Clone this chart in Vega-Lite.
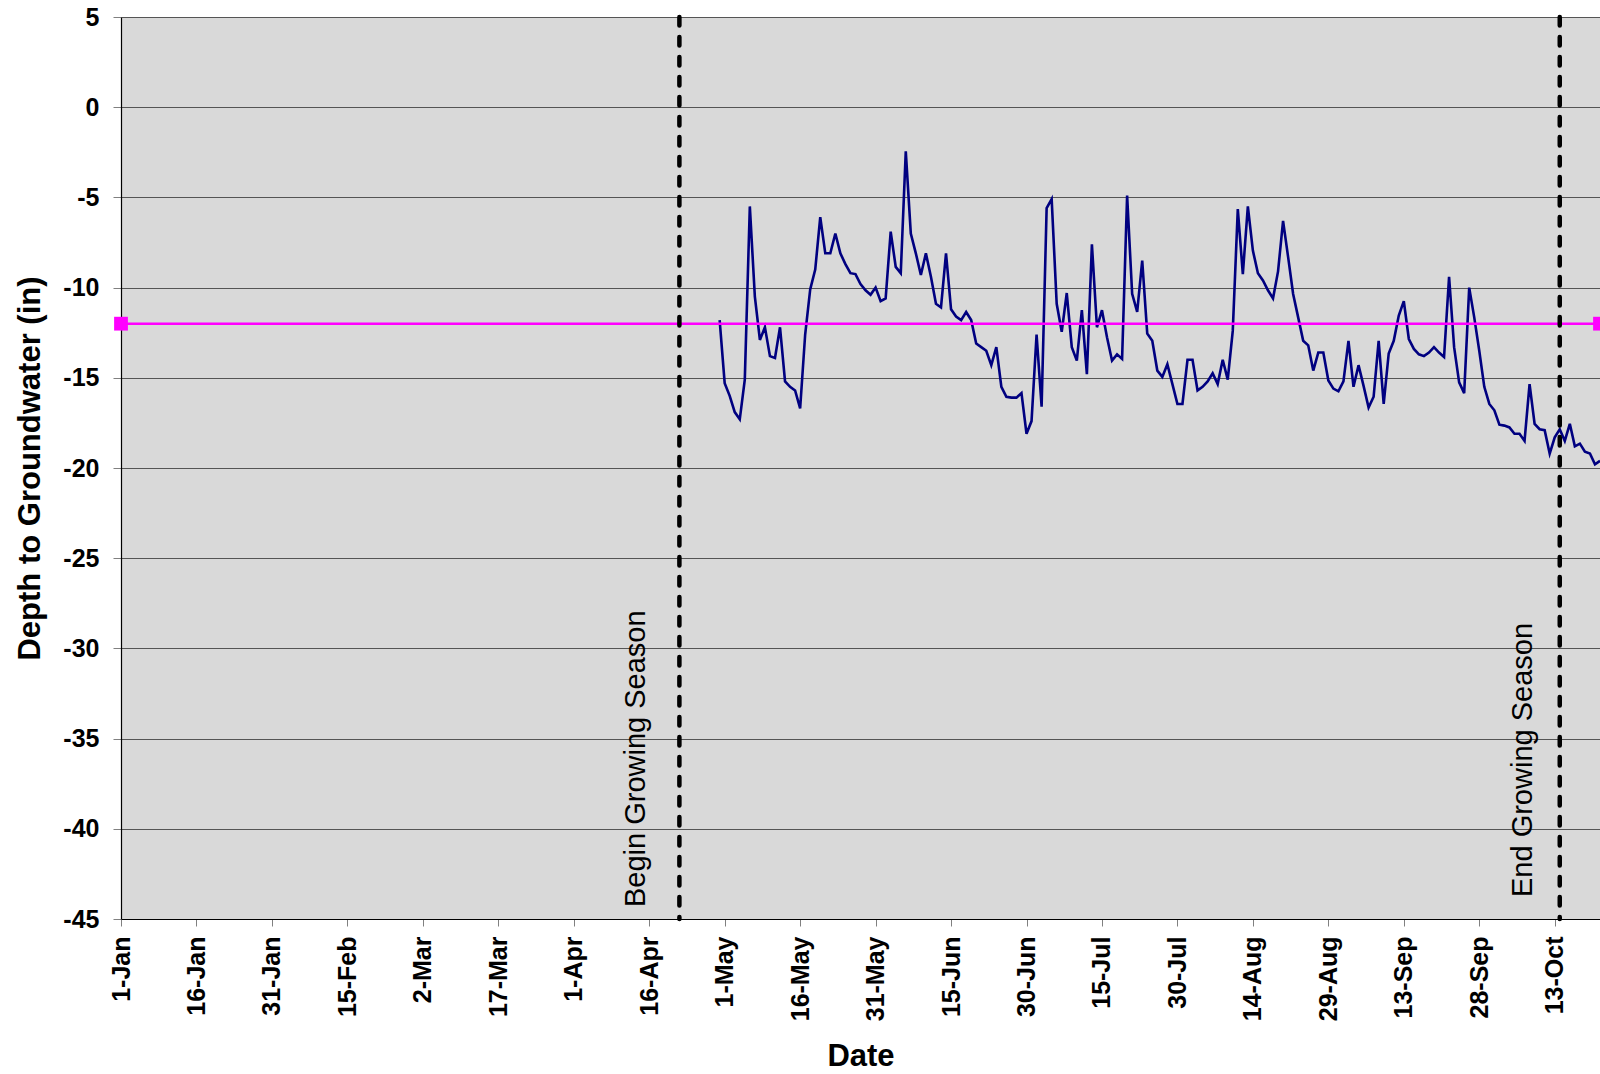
{
  "$schema": "https://vega.github.io/schema/vega-lite/v6.json",
  "width": 1479,
  "height": 902,
  "autosize": {"type": "none"},
  "padding": {"left": 121, "top": 17, "right": 0, "bottom": 155},
  "background": "white",
  "config": {
    "view": {"fill": "#d9d9d9", "stroke": null},
    "font": "Liberation Sans"
  },
  "datasets": {
    "gw": [
      {"date": "2009-04-30", "depth": -11.8},
      {"date": "2009-05-01", "depth": -15.3},
      {"date": "2009-05-02", "depth": -16.0},
      {"date": "2009-05-03", "depth": -16.9},
      {"date": "2009-05-04", "depth": -17.3},
      {"date": "2009-05-05", "depth": -15.1},
      {"date": "2009-05-06", "depth": -5.5},
      {"date": "2009-05-07", "depth": -10.5},
      {"date": "2009-05-08", "depth": -12.9},
      {"date": "2009-05-09", "depth": -12.2},
      {"date": "2009-05-10", "depth": -13.8},
      {"date": "2009-05-11", "depth": -13.9},
      {"date": "2009-05-12", "depth": -12.2},
      {"date": "2009-05-13", "depth": -15.2},
      {"date": "2009-05-14", "depth": -15.5},
      {"date": "2009-05-15", "depth": -15.7},
      {"date": "2009-05-16", "depth": -16.7},
      {"date": "2009-05-17", "depth": -12.6},
      {"date": "2009-05-18", "depth": -10.1},
      {"date": "2009-05-19", "depth": -9.0},
      {"date": "2009-05-20", "depth": -6.1},
      {"date": "2009-05-21", "depth": -8.1},
      {"date": "2009-05-22", "depth": -8.1},
      {"date": "2009-05-23", "depth": -7.0},
      {"date": "2009-05-24", "depth": -8.1},
      {"date": "2009-05-25", "depth": -8.7},
      {"date": "2009-05-26", "depth": -9.2},
      {"date": "2009-05-27", "depth": -9.25},
      {"date": "2009-05-28", "depth": -9.8},
      {"date": "2009-05-29", "depth": -10.15},
      {"date": "2009-05-30", "depth": -10.4},
      {"date": "2009-05-31", "depth": -10.0},
      {"date": "2009-06-01", "depth": -10.75},
      {"date": "2009-06-02", "depth": -10.6},
      {"date": "2009-06-03", "depth": -6.9},
      {"date": "2009-06-04", "depth": -8.85},
      {"date": "2009-06-05", "depth": -9.2},
      {"date": "2009-06-06", "depth": -2.45},
      {"date": "2009-06-07", "depth": -7.0},
      {"date": "2009-06-08", "depth": -8.1},
      {"date": "2009-06-09", "depth": -9.3},
      {"date": "2009-06-10", "depth": -8.1},
      {"date": "2009-06-11", "depth": -9.4},
      {"date": "2009-06-12", "depth": -10.9},
      {"date": "2009-06-13", "depth": -11.1},
      {"date": "2009-06-14", "depth": -8.1},
      {"date": "2009-06-15", "depth": -11.2},
      {"date": "2009-06-16", "depth": -11.6},
      {"date": "2009-06-17", "depth": -11.8},
      {"date": "2009-06-18", "depth": -11.35},
      {"date": "2009-06-19", "depth": -11.8},
      {"date": "2009-06-20", "depth": -13.1},
      {"date": "2009-06-21", "depth": -13.3},
      {"date": "2009-06-22", "depth": -13.5},
      {"date": "2009-06-23", "depth": -14.3},
      {"date": "2009-06-24", "depth": -13.3},
      {"date": "2009-06-25", "depth": -15.5},
      {"date": "2009-06-26", "depth": -16.05},
      {"date": "2009-06-27", "depth": -16.1},
      {"date": "2009-06-28", "depth": -16.1},
      {"date": "2009-06-29", "depth": -15.85},
      {"date": "2009-06-30", "depth": -18.1},
      {"date": "2009-07-01", "depth": -17.4},
      {"date": "2009-07-02", "depth": -12.6},
      {"date": "2009-07-03", "depth": -16.6},
      {"date": "2009-07-04", "depth": -5.6},
      {"date": "2009-07-05", "depth": -5.1},
      {"date": "2009-07-06", "depth": -10.9},
      {"date": "2009-07-07", "depth": -12.45},
      {"date": "2009-07-08", "depth": -10.3},
      {"date": "2009-07-09", "depth": -13.3},
      {"date": "2009-07-10", "depth": -14.05},
      {"date": "2009-07-11", "depth": -11.25},
      {"date": "2009-07-12", "depth": -14.8},
      {"date": "2009-07-13", "depth": -7.6},
      {"date": "2009-07-14", "depth": -12.2},
      {"date": "2009-07-15", "depth": -11.25},
      {"date": "2009-07-16", "depth": -12.75},
      {"date": "2009-07-17", "depth": -14.05},
      {"date": "2009-07-18", "depth": -13.7},
      {"date": "2009-07-19", "depth": -13.95},
      {"date": "2009-07-20", "depth": -4.9},
      {"date": "2009-07-21", "depth": -10.35},
      {"date": "2009-07-22", "depth": -11.35},
      {"date": "2009-07-23", "depth": -8.5},
      {"date": "2009-07-24", "depth": -12.55},
      {"date": "2009-07-25", "depth": -12.95},
      {"date": "2009-07-26", "depth": -14.6},
      {"date": "2009-07-27", "depth": -14.95},
      {"date": "2009-07-28", "depth": -14.25},
      {"date": "2009-07-29", "depth": -15.35},
      {"date": "2009-07-30", "depth": -16.45},
      {"date": "2009-07-31", "depth": -16.45},
      {"date": "2009-08-01", "depth": -14.0},
      {"date": "2009-08-02", "depth": -14.0},
      {"date": "2009-08-03", "depth": -15.7},
      {"date": "2009-08-04", "depth": -15.5},
      {"date": "2009-08-05", "depth": -15.2},
      {"date": "2009-08-06", "depth": -14.75},
      {"date": "2009-08-07", "depth": -15.35},
      {"date": "2009-08-08", "depth": -14.0},
      {"date": "2009-08-09", "depth": -15.1},
      {"date": "2009-08-10", "depth": -12.4},
      {"date": "2009-08-11", "depth": -5.65},
      {"date": "2009-08-12", "depth": -9.25},
      {"date": "2009-08-13", "depth": -5.5},
      {"date": "2009-08-14", "depth": -7.95},
      {"date": "2009-08-15", "depth": -9.2},
      {"date": "2009-08-16", "depth": -9.6},
      {"date": "2009-08-17", "depth": -10.15},
      {"date": "2009-08-18", "depth": -10.6},
      {"date": "2009-08-19", "depth": -9.1},
      {"date": "2009-08-20", "depth": -6.3},
      {"date": "2009-08-21", "depth": -8.3},
      {"date": "2009-08-22", "depth": -10.35},
      {"date": "2009-08-23", "depth": -11.65},
      {"date": "2009-08-24", "depth": -12.95},
      {"date": "2009-08-25", "depth": -13.2},
      {"date": "2009-08-26", "depth": -14.6},
      {"date": "2009-08-27", "depth": -13.6},
      {"date": "2009-08-28", "depth": -13.6},
      {"date": "2009-08-29", "depth": -15.15},
      {"date": "2009-08-30", "depth": -15.6},
      {"date": "2009-08-31", "depth": -15.75},
      {"date": "2009-09-01", "depth": -15.2},
      {"date": "2009-09-02", "depth": -12.95},
      {"date": "2009-09-03", "depth": -15.5},
      {"date": "2009-09-04", "depth": -14.3},
      {"date": "2009-09-05", "depth": -15.45},
      {"date": "2009-09-06", "depth": -16.65},
      {"date": "2009-09-07", "depth": -16.05},
      {"date": "2009-09-08", "depth": -12.95},
      {"date": "2009-09-09", "depth": -16.45},
      {"date": "2009-09-10", "depth": -13.65},
      {"date": "2009-09-11", "depth": -12.95},
      {"date": "2009-09-12", "depth": -11.55},
      {"date": "2009-09-13", "depth": -10.75},
      {"date": "2009-09-14", "depth": -12.85},
      {"date": "2009-09-15", "depth": -13.4},
      {"date": "2009-09-16", "depth": -13.7},
      {"date": "2009-09-17", "depth": -13.8},
      {"date": "2009-09-18", "depth": -13.6},
      {"date": "2009-09-19", "depth": -13.3},
      {"date": "2009-09-20", "depth": -13.6},
      {"date": "2009-09-21", "depth": -13.85},
      {"date": "2009-09-22", "depth": -9.4},
      {"date": "2009-09-23", "depth": -13.3},
      {"date": "2009-09-24", "depth": -15.25},
      {"date": "2009-09-25", "depth": -15.85},
      {"date": "2009-09-26", "depth": -10.0},
      {"date": "2009-09-27", "depth": -11.65},
      {"date": "2009-09-28", "depth": -13.5},
      {"date": "2009-09-29", "depth": -15.5},
      {"date": "2009-09-30", "depth": -16.45},
      {"date": "2009-10-01", "depth": -16.8},
      {"date": "2009-10-02", "depth": -17.6},
      {"date": "2009-10-03", "depth": -17.65},
      {"date": "2009-10-04", "depth": -17.75},
      {"date": "2009-10-05", "depth": -18.1},
      {"date": "2009-10-06", "depth": -18.1},
      {"date": "2009-10-07", "depth": -18.5},
      {"date": "2009-10-08", "depth": -15.35},
      {"date": "2009-10-09", "depth": -17.55},
      {"date": "2009-10-10", "depth": -17.85},
      {"date": "2009-10-11", "depth": -17.9},
      {"date": "2009-10-12", "depth": -19.2},
      {"date": "2009-10-13", "depth": -18.3},
      {"date": "2009-10-14", "depth": -17.85},
      {"date": "2009-10-15", "depth": -18.5},
      {"date": "2009-10-16", "depth": -17.55},
      {"date": "2009-10-17", "depth": -18.8},
      {"date": "2009-10-18", "depth": -18.65},
      {"date": "2009-10-19", "depth": -19.1},
      {"date": "2009-10-20", "depth": -19.2},
      {"date": "2009-10-21", "depth": -19.8},
      {"date": "2009-10-22", "depth": -19.6}
    ],
    "threshold": [
      {"date": "2009-01-01", "depth": -12},
      {"date": "2009-10-22", "depth": -12}
    ],
    "season": [
      {"date": "2009-04-22", "label": "Begin Growing Season"},
      {"date": "2009-10-14", "label": "End Growing Season"}
    ],
    "seasonBegin": [
      {"date": "2009-04-22", "label": "Begin Growing Season", "depth": -45}
    ],
    "seasonEnd": [
      {"date": "2009-10-14", "label": "End Growing Season", "depth": -45}
    ]
  },
  "encoding": {
    "x": {
      "field": "date",
      "type": "temporal",
      "scale": {
        "type": "utc",
        "domain": [
          {"year": 2009, "month": 1, "date": 1, "utc": true},
          {"year": 2009, "month": 10, "date": 22, "utc": true}
        ],
        "nice": false
      },
      "axis": {
        "title": "Date",
        "values": [
          {"year": 2009, "month": 1, "date": 1, "utc": true},
          {"year": 2009, "month": 1, "date": 16, "utc": true},
          {"year": 2009, "month": 1, "date": 31, "utc": true},
          {"year": 2009, "month": 2, "date": 15, "utc": true},
          {"year": 2009, "month": 3, "date": 2, "utc": true},
          {"year": 2009, "month": 3, "date": 17, "utc": true},
          {"year": 2009, "month": 4, "date": 1, "utc": true},
          {"year": 2009, "month": 4, "date": 16, "utc": true},
          {"year": 2009, "month": 5, "date": 1, "utc": true},
          {"year": 2009, "month": 5, "date": 16, "utc": true},
          {"year": 2009, "month": 5, "date": 31, "utc": true},
          {"year": 2009, "month": 6, "date": 15, "utc": true},
          {"year": 2009, "month": 6, "date": 30, "utc": true},
          {"year": 2009, "month": 7, "date": 15, "utc": true},
          {"year": 2009, "month": 7, "date": 30, "utc": true},
          {"year": 2009, "month": 8, "date": 14, "utc": true},
          {"year": 2009, "month": 8, "date": 29, "utc": true},
          {"year": 2009, "month": 9, "date": 13, "utc": true},
          {"year": 2009, "month": 9, "date": 28, "utc": true},
          {"year": 2009, "month": 10, "date": 13, "utc": true}
        ],
        "format": "%-d-%b",
        "labelAngle": 270,
        "labelFont": "Liberation Sans",
        "labelFontSize": 25,
        "labelFontWeight": "bold",
        "labelColor": "black",
        "labelPadding": 10,
        "labelOverlap": false,
        "labelFlush": false,
        "labelBound": false,
        "tickSize": 7,
        "tickColor": "#808080",
        "tickWidth": 1,
        "domainColor": "black",
        "domainWidth": 1.2,
        "grid": false,
        "titleFont": "Liberation Sans",
        "titleFontSize": 31,
        "titleFontWeight": "bold",
        "titleColor": "black",
        "titlePadding": 21
      }
    },
    "y": {
      "field": "depth",
      "type": "quantitative",
      "scale": {"domain": [-45, 5], "nice": false, "zero": false},
      "axis": {
        "title": "Depth to Groundwater (in)",
        "values": [5, 0, -5, -10, -15, -20, -25, -30, -35, -40, -45],
        "labelExpr": "'' + datum.value",
        "labelFont": "Liberation Sans",
        "labelFontSize": 25,
        "labelFontWeight": "bold",
        "labelColor": "black",
        "labelPadding": 14,
        "tickSize": 8,
        "tickColor": "#808080",
        "domainColor": "black",
        "domainWidth": 1.2,
        "grid": true,
        "gridColor": "#555555",
        "gridWidth": 1,
        "titleFont": "Liberation Sans",
        "titleFontSize": 31,
        "titleFontWeight": "bold",
        "titleColor": "black",
        "titlePadding": 16
      }
    }
  },
  "layer": [
    {
      "data": {"name": "gw"},
      "mark": {"type": "line", "color": "#000080", "strokeWidth": 2.6, "clip": true}
    },
    {
      "data": {"name": "threshold"},
      "mark": {"type": "line", "color": "#ff00ff", "strokeWidth": 2.6, "point": {"shape": "square", "size": 190, "filled": true, "color": "#ff00ff", "opacity": 1}}
    },
    {
      "data": {"name": "season"},
      "mark": {"type": "rule", "color": "black", "strokeWidth": 4.5, "strokeDash": [8.5, 11.5], "strokeCap": "round"},
      "encoding": {"y": null}
    },
    {
      "data": {"name": "seasonBegin"},
      "mark": {"type": "text", "angle": 270, "align": "left", "baseline": "alphabetic", "font": "Liberation Sans", "fontSize": 29, "fill": "black", "dx": 12, "dy": -34.5},
      "encoding": {"text": {"field": "label", "type": "nominal"}}
    },
    {
      "data": {"name": "seasonEnd"},
      "mark": {"type": "text", "angle": 270, "align": "left", "baseline": "alphabetic", "font": "Liberation Sans", "fontSize": 29, "fill": "black", "dx": 22, "dy": -27.6},
      "encoding": {"text": {"field": "label", "type": "nominal"}}
    }
  ]
}
